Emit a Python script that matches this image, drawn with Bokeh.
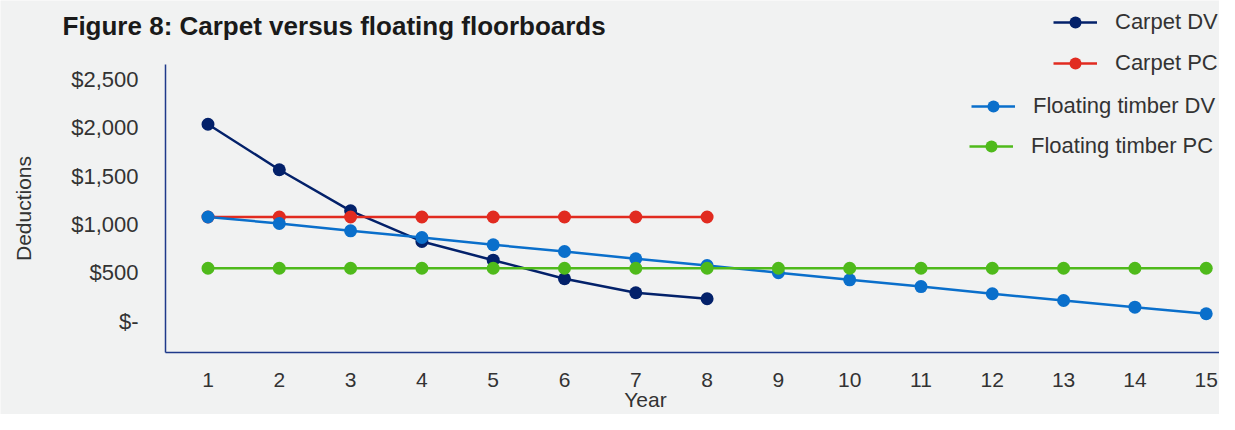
from bokeh.plotting import figure
from bokeh.models import (FixedTicker, Range1d, Legend, LegendItem, Label)
from bokeh.embed import file_html
from bokeh.resources import INLINE

# ---- data ----
years = list(range(1, 16))
carpet_years = list(range(1, 9))
carpet_dv = [2037, 1566, 1141, 824, 630, 438, 293, 231]
carpet_pc = [1077, 1077, 1077, 1077, 1077, 1077, 1077, 1077]
timber_dv = [1077, 1010, 934, 865, 790, 720, 645, 575, 500, 427, 357, 283, 213, 144, 76]
timber_pc = [547] * 15
y_ticks = [0, 500, 1000, 1500, 2000, 2500]
y_tick_labels = ["$-", "$500", "$1,000", "$1,500", "$2,000", "$2,500"]
series_names = ["Carpet DV", "Carpet PC", "Floating timber DV", "Floating timber PC"]
title_text = "Figure 8: Carpet versus floating floorboards"

# ---- style ----
BG = "#f1f2f2"
NAVY = "#03216a"
RED = "#e12b20"
BLUE = "#0a6fcb"
GREEN = "#4fba1b"
AXIS = "#1f3a8a"
TXT = "#333333"
FONT = "Liberation Sans"

X_LO, X_HI = -1.9102, 15.1865
Y_LO, Y_HI = -966.7, 3317.5
X_AXIS_START = 0.404
Y_AXIS_LO, Y_AXIS_HI = -325, 2655

p = figure(width=1219, height=414, output_backend="svg", toolbar_location=None,
           x_range=Range1d(X_LO, X_HI), y_range=Range1d(Y_LO, Y_HI),
           min_border_left=0, min_border_right=0, min_border_top=0,
           min_border_bottom=0)
p.background_fill_color = BG
p.border_fill_color = BG
p.outline_line_color = None
p.grid.visible = False

# axes drawn at fixed positions inside the canvas
xa = p.xaxis[0]
ya = p.yaxis[0]
xa.fixed_location = Y_AXIS_LO
xa.bounds = (X_AXIS_START, X_HI)
ya.fixed_location = X_AXIS_START
ya.bounds = (Y_AXIS_LO, Y_AXIS_HI)
xa.ticker = FixedTicker(ticks=years)
ya.ticker = FixedTicker(ticks=y_ticks)
ya.major_label_overrides = dict(zip(y_ticks, y_tick_labels))
for ax in (xa, ya):
    ax.axis_line_color = AXIS
    ax.axis_line_width = 1.5
    ax.major_tick_line_color = None
    ax.minor_tick_line_color = None
    ax.major_label_text_font = FONT
    ax.major_label_text_color = TXT
    ax.axis_label_text_font = FONT
    ax.axis_label_text_color = TXT
    ax.axis_label_text_font_style = "normal"
xa.major_label_text_font_size = "21px"
xa.major_label_standoff = 15
ya.major_label_text_font_size = "22px"
ya.major_label_standoff = 21
ya.axis_label = "Deductions"
ya.axis_label_text_font_size = "21px"
ya.axis_label_standoff = 33

# series
r_cdv_l = p.line(carpet_years, carpet_dv, line_color=NAVY, line_width=2.5)
r_cpc_l = p.line(carpet_years, carpet_pc, line_color=RED, line_width=2.5)
r_tdv_l = p.line(years, timber_dv, line_color=BLUE, line_width=2.5)
r_tpc_l = p.line(years, timber_pc, line_color=GREEN, line_width=2.5)
r_cdv_m = p.scatter(carpet_years, carpet_dv, size=13, fill_color=NAVY, line_color=None)
r_cpc_m = p.scatter(carpet_years, carpet_pc, size=13, fill_color=RED, line_color=None)
r_tdv_m = p.scatter(years, timber_dv, size=13, fill_color=BLUE, line_color=None)
r_tpc_m = p.scatter(years, timber_pc, size=13, fill_color=GREEN, line_color=None)

renders = [(r_cdv_l, r_cdv_m), (r_cpc_l, r_cpc_m), (r_tdv_l, r_tdv_m), (r_tpc_l, r_tpc_m)]
legend_locs = [(1053, 377), (1053, 336), (971, 293), (969, 253)]
for name, (rl, rm), loc in zip(series_names, renders, legend_locs):
    lg = Legend(items=[LegendItem(label=name, renderers=[rl, rm])], location=loc,
                glyph_width=44, glyph_height=30, label_height=30, label_standoff=18,
                padding=0, margin=0, spacing=0, border_line_color=None,
                background_fill_alpha=0, label_text_font=FONT,
                label_text_font_size="22px", label_text_color=TXT)
    p.add_layout(lg, "center")

p.add_layout(Label(x=62, y=389, x_units="screen", y_units="screen", text=title_text,
                   text_font=FONT, text_font_size="26px", text_font_style="bold",
                   text_color="#1a1a1a", text_baseline="alphabetic"))
p.add_layout(Label(x=645, y=15, x_units="screen", y_units="screen", text="Year",
                   text_font=FONT, text_font_size="21px", text_color=TXT,
                   text_align="center", text_baseline="middle"))

open("out.html", "w").write(file_html(p, INLINE))
